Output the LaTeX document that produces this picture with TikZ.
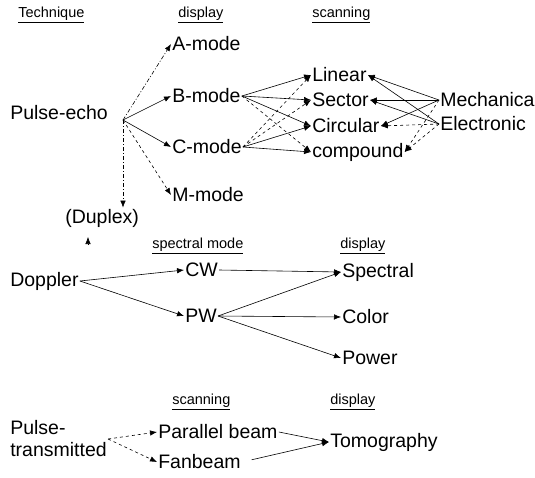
\documentclass[tikz,border=0pt]{standalone}
\usepackage{fontspec}
\setmainfont{Liberation Sans}
\usetikzlibrary{arrows.meta, positioning}

\begin{document}
\begin{tikzpicture}[->,>={Latex[length=7pt,width=5.5pt]},x=1pt,y=-1pt,line width=0.6pt]
	\tikzset{lbl/.style={anchor=west,inner sep=1pt,font=\fontsize{19.5}{22}\selectfont},
		hdr/.style={anchor=west,inner sep=1pt,font=\fontsize{14.5}{16}\selectfont},
		dashdot/.style={dash pattern=on 4pt off 2pt on 1pt off 2pt}}
	\useasboundingbox (0,0) rectangle (535,477);
	% Pulse-echo
	\node[hdr] (tech) at (17,15) {\underline{Technique}};
	\node[hdr] (disp1) at (177,15) {\underline{display}};
	\node[hdr] (scan1) at (311,15) {\underline{scanning}};
	\node[lbl] (pecho) at (9,113) {Pulse-echo};
	\node[lbl] (amode) at (171,44) {A-mode};
	\node[lbl] (bmode) at (171,96) {B-mode};
	\node[lbl] (cmode) at (171,147) {C-mode};
	\node[lbl] (mmode) at (171,195) {M-mode};
	\node[lbl] (duplex) at (64,218) {(Duplex)};
	\node[lbl] (linear) at (311,75) {Linear};
	\node[lbl] (sector) at (311,100) {Sector};
	\node[lbl] (circular) at (311,126) {Circular};
	\node[lbl] (compound) at (311,152) {compound};
	\node[lbl] (mech) at (439,100) {Mechanica};
	\node[lbl] (elec) at (439,124) {Electronic};
	\coordinate (pe) at (123,120);
	\coordinate (dup) at (88,245);
	\path
		(pe)
			edge [dashdot] (amode.west)
			edge (bmode.west)
			edge (cmode.west)
			edge [dashed] (mmode.west)
			edge [dashdot] (pe |- duplex.north)
		(bmode.east)
			edge (linear.west)
			edge (sector.west)
			edge (circular.west)
			edge [dashed] (compound.west)
		(cmode.east)
			edge [dashed] (linear.west)
			edge [dashed] (sector.west)
			edge (circular.west)
			edge (compound.west)
		(mech.west)
			edge (linear.east)
			edge (sector.east)
			edge (circular.east)
			edge [dashed] (compound.east)
		(elec.west)
			edge (linear.east)
			edge (sector.east)
			edge [dashed] (circular.east)
			edge [dashed] (compound.east);
	\draw (dup) -- ++(0,-8);
	% Doppler
	\node[hdr] (smode) at (151,246) {\underline{spectral mode}};
	\node[hdr] (disp2) at (339,246) {\underline{display}};
	\node[lbl] (doppler) at (9,281) {Doppler};
	\node[lbl] (cw) at (184,270) {CW};
	\node[lbl] (pw) at (184,316) {PW};
	\node[lbl] (spectral) at (341,272) {Spectral};
	\node[lbl] (color) at (341,317) {Color};
	\node[lbl] (power) at (341,358) {Power};
	\path
		(doppler.east)
			edge (cw.west)
			edge (pw.west)
		(cw.east)
			edge (spectral.west)
		(pw.east)
			edge (spectral.west)
			edge (color.west)
			edge (power.west);
	% Pulse-transmitted
	\node[hdr] (scan3) at (171,402) {\underline{scanning}};
	\node[hdr] (disp3) at (329,402) {\underline{display}};
	\node[lbl,align=left] (ptrans) at (9,439) {Pulse-\\transmitted};
	\node[lbl] (parallel) at (157,432) {Parallel beam};
	\node[lbl] (fanbeam) at (157,462) {Fanbeam};
	\node[lbl] (tomo) at (329,442) {Tomography};
	\path
		(ptrans.east)
			edge [dashed] (parallel.west)
			edge [dashed] (fanbeam.west)
		(parallel.east)
			edge (tomo.west)
		(fanbeam.east)
			edge [shorten <=10pt] (tomo.west);
\end{tikzpicture}
\end{document}
